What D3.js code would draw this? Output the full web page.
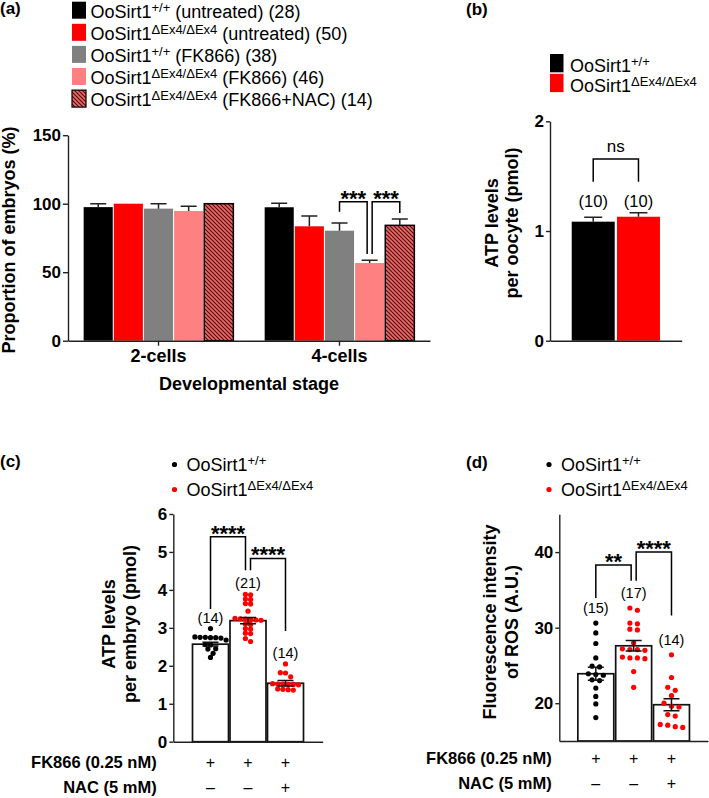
<!DOCTYPE html>
<html>
<head>
<meta charset="utf-8">
<script src="https://cdn.jsdelivr.net/npm/d3@7"></script>
<style>
  body { margin: 0; background: #fff; }
  svg { font-family: "Liberation Sans", Arial, Helvetica, sans-serif; }
  text { white-space: pre; }
</style>
</head>
<body>
<div id="figure"></div>
<script>
// ---- panel (a) data: proportion of embryos (%) per stage
var stages = ["2-cells", "4-cells"];
var aSups = ["+/+", "\u0394Ex4/\u0394Ex4", "+/+", "\u0394Ex4/\u0394Ex4", "\u0394Ex4/\u0394Ex4"];
var aSuffix = [" (untreated) (28)", " (untreated) (50)", " (FK866) (38)", " (FK866) (46)", " (FK866+NAC) (14)"];
var aWtUntreated = [97.5, 97.4];
var aKoUntreated = [100, 83.5];
var aWtFk = [96.4, 80.3];
var aKoFk = [94.7, 56.7];
var aKoFkNac = [100, 84.2];
var aErrWtUntreated = [2.5, 2.9];
var aErrKoUntreated = [0, 7.5];
var aErrWtFk = [3.6, 5.7];
var aErrKoFk = [3.4, 2.0];
var aErrKoFkNac = [0, 4.6];
var aBrackets = [
  {stage: "4-cells", a: 2, b: 3, top: 101.5, legA: 94.2, legB: 63.3, label: "***"},
  {stage: "4-cells", a: 3, b: 4, top: 101.5, legA: 63.3, legB: 93.2, label: "***"}
];

// ---- panel (b) data: ATP per oocyte (pmol)
var bSups = ["+/+", "\u0394Ex4/\u0394Ex4"];
var bAtp = [1.085, 1.13];
var bSem = [0.04, 0.037];
var bCounts = [10, 10];
var bBrackets = [{a: 0, b: 1, top: 1.656, legA: 1.45, legB: 1.45, label: "ns"}];

// ---- panel (c) data: ATP per embryo (pmol)
var cWt = [2.98, 2.76, 2.75, 2.75, 2.74, 2.74, 2.73, 2.68, 2.56, 2.55, 2.45, 2.44, 2.33, 2.22];
var cKo = [3.88, 3.87, 3.76, 3.75, 3.64, 3.63, 3.44, 3.25, 3.24, 3.23, 3.22, 3.21, 3.2,
           3.1, 3.09, 2.98, 2.97, 2.86, 2.85, 2.72, 2.64];
var cKoNac = [2.05, 1.82, 1.81, 1.71, 1.53, 1.52, 1.52, 1.51, 1.51, 1.5, 1.39, 1.38, 1.37, 1.36];
var cMeans = [2.57, 3.19, 1.54];
var cSems = [0.05, 0.08, 0.07];
var cBrackets = [
  {a: 0, b: 1, top: 5.40, legA: 3.5, legB: 4.52, label: "****"},
  {a: 1, b: 2, top: 4.83, legA: 4.52, legB: 2.92, label: "****"}
];

// ---- panel (d) data: ROS fluorescence (A.U.)
var dWt = [30.6, 29.3, 27.9, 26.0, 24.9, 24.8, 23.9, 23.8, 23.7, 23.1, 23.0, 22.0, 20.9, 19.9, 18.1];
var dKo = [32.6, 32.3, 30.6, 30.5, 29.8, 29.7, 28.0, 27.2, 27.1, 27.1, 27.0, 26.1, 26.0, 26.0, 25.9, 24.2, 22.1];
var dKoNac = [26.4, 23.4, 22.1, 21.7, 21.0, 20.0, 19.6, 19.5, 18.5, 18.3, 17.2, 17.1, 16.9, 16.8];
var dMeans = [23.9, 27.6, 19.8];
var dSems = [0.85, 0.7, 0.8];
var dBrackets = [
  {a: 0, b: 1, top: 38.28, legA: 33.94, legB: 36.2, label: "**"},
  {a: 1, b: 2, top: 40.0, legA: 36.2, legB: 31.6, label: "****"}
];

// treatment rows under (c) and (d)
var rowLabels = ["FK866 (0.25 nM)", "NAC (5 mM)"];
var fkSigns = ["+", "+", "+"];
var nacSigns = ["\u2013", "\u2013", "+"];

var ink = "#222";

var svg = d3.select("#figure").append("svg")
    .attr("width", 709)
    .attr("height", 798);

// hatch for the FK866+NAC bars
var pat = svg.append("defs").append("pattern")
    .attr("id", "hatch")
    .attr("patternUnits", "userSpaceOnUse")
    .attr("width", 4)
    .attr("height", 4);
pat.append("rect").attr("width", 4).attr("height", 4).attr("fill", "#f26868");
pat.append("path")
    .attr("d", "M-1,-1L5,5M3,-1L5,1M-1,3L1,5")
    .attr("stroke", "#4a1212")
    .attr("stroke-width", 1.2);

// genotype label with superscript
function genoText(g, x, y, sup, rest) {
  var t = g.append("text").attr("x", x).attr("y", y).attr("font-size", 18);
  t.append("tspan").text("OoSirt1");
  t.append("tspan").attr("font-size", 13).attr("dy", -6).text(sup);
  if (rest) t.append("tspan").attr("dy", 6).text(rest);
  return t;
}

function panelLabel(x, y, s) {
  svg.append("text").attr("x", x).attr("y", y)
      .attr("font-size", 17).attr("font-weight", "bold").text(s);
}

function styleAxis(g, size) {
  g.attr("font-family", null).attr("font-size", size).attr("font-weight", "bold");
  g.selectAll("path, line").attr("stroke", ink).attr("stroke-width", 1.4);
  g.selectAll("text").attr("fill", "#000");
}

// y title, one or two rotated lines
function yTitle(xs, cy, lines) {
  lines.forEach(function(s, i) {
    svg.append("text")
        .attr("transform", "translate(" + xs[i] + "," + cy + ") rotate(-90)")
        .attr("text-anchor", "middle")
        .attr("font-size", 18)
        .attr("font-weight", "bold")
        .text(s);
  });
}

function drawBrackets(g, list, xc, y) {
  list.forEach(function(br) {
    var offA = list.some(function(o) { return o.b === br.a; }) ? 2.5 : 0;
    var offB = list.some(function(o) { return o.a === br.b; }) ? -2.5 : 0;
    var xa = xc(br)[0] + offA, xb = xc(br)[1] + offB;
    g.append("path")
        .attr("d", "M" + xa + "," + y(br.legA) + "V" + y(br.top) + "H" + xb + "V" + y(br.legB))
        .attr("fill", "none")
        .attr("stroke", "#000")
        .attr("stroke-width", 1.5);
    var ns = br.label === "ns";
    g.append("text")
        .attr("x", (xa + xb) / 2)
        .attr("y", ns ? y(br.top) - 7 : y(br.top) + 4)
        .attr("text-anchor", "middle")
        .attr("font-size", ns ? 17 : 22)
        .attr("font-weight", ns ? "normal" : "bold")
        .text(br.label);
  });
}

var intFmt = d3.format("d");

// ================= panel (a)
panelLabel(0, 14, "(a)");
var aMeans = [aWtUntreated, aKoUntreated, aWtFk, aKoFk, aKoFkNac];
var aErrs = [aErrWtUntreated, aErrKoUntreated, aErrWtFk, aErrKoFk, aErrKoFkNac];
var aFills = ["#000000", "#ff0000", "#808080", "#ff8080", "url(#hatch)"];

var ya = d3.scaleLinear().domain([0, 150]).range([340.7, 135.2]);
var xa0 = d3.scaleBand().domain(stages).range([68, 430]).paddingInner(0.173).paddingOuter(0.0865);
var xa1 = d3.scaleBand().domain(d3.range(5)).range([0, xa0.bandwidth()]).paddingInner(0.035);

var aBars = [];
stages.forEach(function(st, i) {
  aMeans.forEach(function(series, j) {
    aBars.push({stage: st, k: j, v: series[i], e: aErrs[j][i]});
  });
});

var ga = svg.append("g");
ga.selectAll("rect.bar")
    .data(aBars)
    .enter().append("rect")
    .attr("x", function(d) { return xa0(d.stage) + xa1(d.k); })
    .attr("y", function(d) { return ya(d.v); })
    .attr("width", xa1.bandwidth())
    .attr("height", function(d) { return ya(0) - ya(d.v); })
    .attr("fill", function(d) { return aFills[d.k]; })
    .attr("stroke", function(d) { return d.k === 4 ? "#000" : "none"; })
    .attr("stroke-width", 1.5);

// upward error bars
ga.selectAll("path.err")
    .data(aBars.filter(function(d) { return d.e > 0; }))
    .enter().append("path")
    .attr("d", function(d) {
      var cx = xa0(d.stage) + xa1(d.k) + xa1.bandwidth() / 2;
      return "M" + cx + "," + ya(d.v) + "V" + ya(d.v + d.e) + "M" + (cx - 8) + "," + ya(d.v + d.e) + "H" + (cx + 8);
    })
    .attr("stroke", ink)
    .attr("stroke-width", 1.5)
    .attr("fill", "none");

ga.append("g").attr("transform", "translate(68,0)")
    .call(d3.axisLeft(ya).tickValues([0, 50, 100, 150]).tickFormat(intFmt).tickSize(5).tickSizeOuter(0).tickPadding(2))
    .call(styleAxis, 17);
ga.append("g").attr("transform", "translate(0," + ya(0) + ")")
    .call(d3.axisBottom(xa0).tickSize(5).tickSizeOuter(0).tickPadding(4))
    .call(styleAxis, 18);

drawBrackets(ga, aBrackets, function(br) {
  var base = xa0(br.stage) + xa1.bandwidth() / 2;
  return [base + xa1(br.a), base + xa1(br.b)];
}, ya);

svg.append("text").attr("x", 249).attr("y", 390).attr("text-anchor", "middle")
    .attr("font-size", 18).attr("font-weight", "bold").text("Developmental stage");
yTitle([15], 240, ["Proportion of embryos (%)"]);

// legend (a)
var la = svg.append("g");
aFills.forEach(function(f, i) {
  la.append("rect").attr("x", 72).attr("y", 1.7 + i * 22.1).attr("width", 14).attr("height", 17)
      .attr("fill", f).attr("stroke", i === 4 ? "#000" : "none").attr("stroke-width", 1.2);
  genoText(la, 90.5, 17.6 + i * 22.1, aSups[i], aSuffix[i]);
});

// ================= panel (b)
panelLabel(466, 15, "(b)");
var yb = d3.scaleLinear().domain([0, 2]).range([340.7, 121.3]);
var xb = d3.scaleBand().domain(d3.range(2)).range([550, 681.7]).paddingInner(0.05).paddingOuter(0.48);
var bFills = ["#000000", "#ff0000"];
var gb = svg.append("g");
gb.selectAll("rect")
    .data(bAtp)
    .enter().append("rect")
    .attr("x", function(d, i) { return xb(i); })
    .attr("y", function(d) { return yb(d); })
    .attr("width", xb.bandwidth())
    .attr("height", function(d) { return yb(0) - yb(d); })
    .attr("fill", function(d, i) { return bFills[i]; });
gb.selectAll("path.err")
    .data(bAtp)
    .enter().append("path")
    .attr("d", function(d, i) {
      var cx = xb(i) + xb.bandwidth() / 2, t = yb(d + bSem[i]);
      return "M" + cx + "," + yb(d) + "V" + t + "M" + (cx - 9) + "," + t + "H" + (cx + 9);
    })
    .attr("stroke", ink).attr("stroke-width", 1.5).attr("fill", "none");
var bTop = d3.max(bAtp, function(d, i) { return d + bSem[i]; });
gb.selectAll("text.n")
    .data(bCounts)
    .enter().append("text")
    .attr("x", function(d, i) { return xb(i) + xb.bandwidth() / 2; })
    .attr("y", yb(bTop) - 6)
    .attr("text-anchor", "middle")
    .attr("font-size", 16.5)
    .text(function(d) { return "(" + d + ")"; });
gb.append("g").attr("transform", "translate(550,0)")
    .call(d3.axisLeft(yb).tickValues([0, 1, 2]).tickFormat(intFmt).tickSize(4).tickSizeOuter(0).tickPadding(2))
    .call(styleAxis, 17);
gb.append("g").attr("transform", "translate(0," + yb(0) + ")")
    .call(d3.axisBottom(xb).tickSize(0).tickSizeOuter(0).tickFormat(""))
    .call(styleAxis, 17);
drawBrackets(gb, bBrackets, function(br) {
  return [xb(br.a) + xb.bandwidth() / 2, xb(br.b) + xb.bandwidth() / 2];
}, yb);
yTitle([498, 518], 223, ["ATP levels", "per oocyte (pmol)"]);

var lb = svg.append("g");
bFills.forEach(function(f, i) {
  lb.append("rect").attr("x", 550).attr("y", 54 + i * 19.8).attr("width", 13.5).attr("height", 18.3).attr("fill", f);
  genoText(lb, 570, 72 + i * 19.8, bSups[i]);
});

// ================= panels (c) and (d)
// dots sorted by value, grouped in rows and centred on the bar
function swarm(values, y, step, rowGap) {
  var rows = [];
  values.slice().sort(d3.descending).forEach(function(v) {
    var row = rows[rows.length - 1];
    if (row && Math.abs(y(row[0]) - y(v)) < rowGap) row.push(v);
    else rows.push([v]);
  });
  var out = [];
  rows.forEach(function(row) {
    row.forEach(function(v, i) { out.push({v: v, dx: (i - (row.length - 1) / 2) * step}); });
  });
  return out;
}

function scatterPanel(o) {
  var g = svg.append("g");
  var x = o.x, y = o.y, bw = x.bandwidth();
  var cx = function(i) { return x(i) + bw / 2; };
  var dotColors = ["#000000", "#ff0000", "#ff0000"];

  g.selectAll("rect")
      .data(o.means)
      .enter().append("rect")
      .attr("x", function(d, i) { return x(i); })
      .attr("y", function(d) { return y(d); })
      .attr("width", bw)
      .attr("height", function(d) { return y.range()[0] - y(d); })
      .attr("fill", "#fff")
      .attr("stroke", "#111")
      .attr("stroke-width", 1.7);

  o.sets.forEach(function(vals, i) {
    g.selectAll("circle.s" + i)
        .data(swarm(vals, y, o.step, o.rowGap))
        .enter().append("circle")
        .attr("cx", function(d) { return cx(i) + d.dx; })
        .attr("cy", function(d) { return y(d.v); })
        .attr("r", 2.6)
        .attr("fill", dotColors[i]);
  });

  // mean +/- SEM
  g.selectAll("path.err")
      .data(o.means)
      .enter().append("path")
      .attr("d", function(d, i) {
        var hi = y(d + o.sems[i]), lo = y(d - o.sems[i]), c = cx(i);
        return "M" + c + "," + hi + "V" + lo +
               "M" + (c - 8) + "," + hi + "H" + (c + 8) +
               "M" + (c - 8) + "," + lo + "H" + (c + 8);
      })
      .attr("stroke", "#111").attr("stroke-width", 1.5).attr("fill", "none");

  g.selectAll("text.n")
      .data(o.sets)
      .enter().append("text")
      .attr("x", function(d, i) { return cx(i); })
      .attr("y", function(d) { return y(d3.max(d)) - o.nGap; })
      .attr("text-anchor", "middle")
      .attr("font-size", 14.5)
      .text(function(d) { return "(" + d.length + ")"; });

  g.append("g").attr("transform", "translate(" + x.range()[0] + ",0)")
      .call(d3.axisLeft(y).tickValues(o.ticks).tickFormat(intFmt).tickSize(4).tickSizeOuter(0).tickPadding(2))
      .call(styleAxis, 17);
  g.append("g").attr("transform", "translate(0," + y.range()[0] + ")")
      .call(d3.axisBottom(x).tickSize(0).tickSizeOuter(0).tickFormat(""))
      .call(styleAxis, 17);

  drawBrackets(g, o.brackets, function(br) { return [cx(br.a), cx(br.b)]; }, y);

  // treatment rows
  [fkSigns, nacSigns].forEach(function(signs, r) {
    g.append("text").attr("x", o.rowX).attr("y", o.rowY[r]).attr("text-anchor", "end")
        .attr("font-size", 16.5).attr("font-weight", "bold").text(rowLabels[r]);
    g.selectAll("text.sign" + r)
        .data(signs)
        .enter().append("text")
        .attr("x", function(d, i) { return cx(i); })
        .attr("y", o.rowY[r])
        .attr("text-anchor", "middle")
        .attr("font-size", 16)
        .text(function(d) { return d; });
  });

  // legend
  ["+/+", "\u0394Ex4/\u0394Ex4"].forEach(function(s, i) {
    g.append("circle").attr("cx", o.legX).attr("cy", 464.5 + i * 25).attr("r", 2.6).attr("fill", dotColors[i]);
    genoText(g, o.legX + 12, 471 + i * 25, s);
  });
}

panelLabel(0, 467, "(c)");
scatterPanel({
  y: d3.scaleLinear().domain([0, 6]).range([741.7, 514]),
  x: d3.scaleBand().domain(d3.range(3)).range([173.3, 322.7]).paddingInner(0.04).paddingOuter(0.512),
  means: cMeans, sems: cSems, sets: [cWt, cKo, cKoNac],
  ticks: [0, 1, 2, 3, 4, 5, 6], step: 5.2, rowGap: 4.3, nGap: 6,
  brackets: cBrackets, rowX: 156.7, rowY: [768, 793], legX: 174.5
});
yTitle([115, 136], 624, ["ATP levels", "per embryo (pmol)"]);

panelLabel(466, 468, "(d)");
scatterPanel({
  y: d3.scaleLinear().domain([15, 45]).range([741, 514.3]),
  x: d3.scaleBand().domain(d3.range(3)).range([559.3, 708]).paddingInner(0.05).paddingOuter(0.49),
  means: dMeans, sems: dSems, sets: [dWt, dKo, dKoNac],
  ticks: [20, 30, 40], step: 7.5, rowGap: 4.5, nGap: 10,
  brackets: dBrackets, rowX: 551.7, rowY: [764, 789], legX: 549
});
yTitle([496, 518], 622, ["Fluorescence intensity", "of ROS (A.U.)"]);
</script>
</body>
</html>
